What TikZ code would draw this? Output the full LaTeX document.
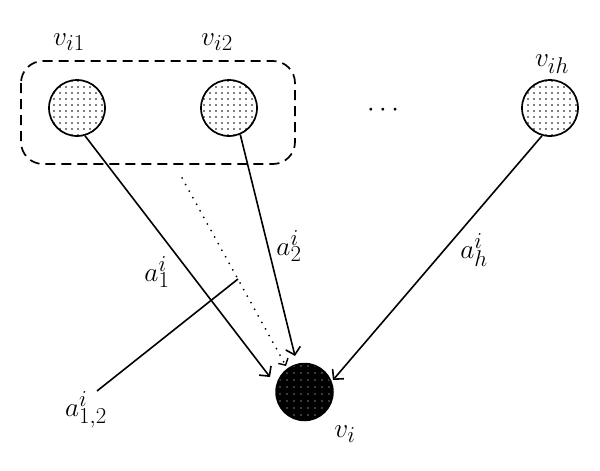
\documentclass[tikz,border=0pt]{standalone}
\usetikzlibrary{arrows.meta,patterns.meta}
\begin{document}
\begin{tikzpicture}[x=1pt,y=-1pt,
  vert/.style={circle,draw,line width=1.7pt,minimum size=56pt,inner sep=0pt,
    pattern={Dots[radius=0.9pt,distance=6pt]},pattern color=black},
  sink/.style={circle,draw,line width=1.5pt,minimum size=57pt,inner sep=0pt,
    preaction={fill=black},pattern={Dots[radius=0.6pt,distance=7pt]},pattern color=white},
  lab/.style={font=\Huge,scale=1.1},
  edge/.style={line width=1.6pt,-{Straight Barb[length=7pt,width=15pt,line width=1.6pt]}},
  dotline/.style={line width=2pt,dash pattern=on 0pt off 7.5pt,line cap=round,
    -{Straight Barb[length=5pt,width=11pt,line width=1.4pt]}}]
\useasboundingbox (0,0) rectangle (600,471);
% group
\draw[line width=1.7pt,dash pattern=on 10pt off 6pt,rounded corners=22pt]
  (21,61) rectangle (295,164);
% nodes
\node[vert] (v1) at (77,108) {};
\node[vert] (v2) at (229,108) {};
\node[vert] (vh) at (550,108) {};
\node[sink] (vi) at (304.5,392) {};
% labels
\node[lab] (l1) at (69,42) {$v_{i1}$};
\node[lab] (l2) at (217,42) {$v_{i2}$};
\node[lab] (lh) at (552,64) {$v_{ih}$};
\node[lab] (li) at (345,434) {$v_{i}$};
\node[lab] (dots) at (383,110) {$\cdots$};
% arrow ends
\coordinate (t1) at (270,377);
\coordinate (t2) at (295,356);
\coordinate (th) at (333,380);
\coordinate (ds) at (182,178);
\coordinate (de) at (286,366);
\coordinate (ma) at (97,391);
\coordinate (mb) at (238,279);
% edges
\draw[edge] (v1.-74) -- (t1);
\draw[edge] (v2.-67) -- (t2);
\draw[edge] (vh.-106) -- (th);
\draw[dotline] (ds) -- (de);
\draw[line width=1.6pt] (ma) -- (mb);
% edge labels
\node[lab] (a1) at (157,272) {$a^{i}_{1}$};
\node[lab] (a2) at (289,246) {$a^{i}_{2}$};
\node[lab] (ah) at (474,250) {$a^{i}_{h}$};
\node[lab] (a12) at (86,410) {$a^{i}_{1,2}$};
\end{tikzpicture}
\end{document}
